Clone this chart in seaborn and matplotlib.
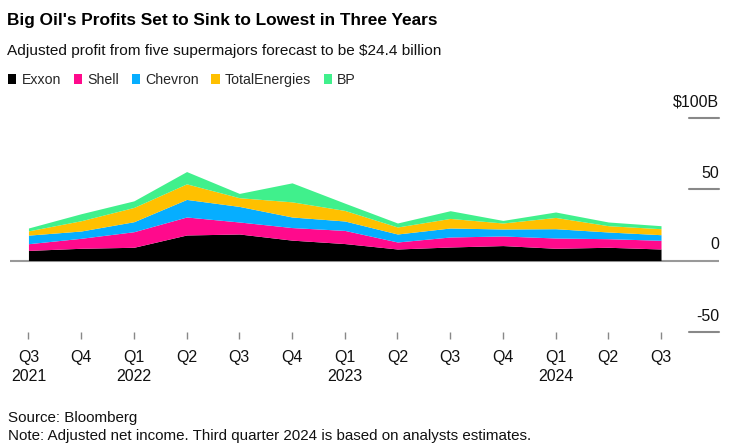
import matplotlib
matplotlib.use("Agg")
import matplotlib.pyplot as plt
import matplotlib.transforms as mtransforms
from matplotlib.patches import Patch
import seaborn as sns
import numpy as np

# ---- data ----
quarters = ["Q3", "Q4", "Q1", "Q2", "Q3", "Q4", "Q1", "Q2", "Q3", "Q4", "Q1", "Q2", "Q3"]
years = ["2021", "", "2022", "", "", "", "2023", "", "", "", "2024", "", ""]
companies = ["Exxon", "Shell", "Chevron", "TotalEnergies", "BP"]
exxon = [7.1, 8.6, 9.3, 17.9, 18.6, 14.3, 11.9, 8.1, 9.5, 10.5, 8.6, 9.3, 8.1]
shell = [4.7, 7.0, 10.9, 12.6, 8.4, 8.8, 9.2, 4.9, 7.0, 6.7, 7.2, 6.0, 6.1]
chevron = [6.0, 5.1, 7.0, 12.3, 10.9, 7.4, 6.6, 5.6, 6.3, 4.9, 6.5, 4.7, 3.9]
total = [3.0, 7.2, 10.0, 10.9, 6.1, 10.6, 7.4, 4.9, 6.7, 4.2, 7.9, 4.4, 4.2]
bp = [2.0, 4.9, 4.6, 8.6, 3.0, 13.3, 5.1, 2.8, 5.4, 1.8, 3.8, 2.6, 2.1]
yticks = [-50, 0, 50, 100]
ytick_labels = ["-50", "0", "50", "$100B"]

colors = ["#000000", "#ff0a8c", "#06aeff", "#ffc000", "#40f08c"]

sns.set_theme(style="white")
plt.rcParams["font.family"] = ["Liberation Sans", "DejaVu Sans"]

fig = plt.figure(figsize=(7.35, 4.44), dpi=100)
ax = fig.add_axes([10 / 735, 1 - 332 / 444, (719 - 10) / 735, (332 - 117.7) / 444])

x = np.arange(len(quarters))
ax.stackplot(x, exxon, shell, chevron, total, bp, colors=colors, linewidth=0)

ax.set_xlim(-0.35, len(quarters) - 1 + 1.1)
ax.set_ylim(-50, 100)
for s in ax.spines.values():
    s.set_visible(False)

# zero line and short gridlines on the right
ax.axhline(0, color="#999999", lw=1.5, zorder=0.5)
trans = mtransforms.blended_transform_factory(ax.transAxes, ax.transData)
x0 = (689 - 10) / (719 - 10)
for v, lab in zip(yticks, ytick_labels):
    if v != 0:
        ax.plot([x0, 1.0], [v, v], transform=trans, color="#888888", lw=1.5, clip_on=False)
    off = mtransforms.offset_copy(trans, fig=fig, x=0, y=6, units="points")
    ax.text(1.0, v, lab, transform=off, ha="right", va="bottom", fontsize=11.5, color="#111111")
ax.set_yticks([])

# x ticks
ax.set_xticks(x)
ax.set_xticklabels([q + ("\n" + y if y else "\n") for q, y in zip(quarters, years)],
                   fontsize=11.5, linespacing=1.35)
ax.tick_params(axis="x", bottom=True, length=5, width=1, color="#888888", pad=8, labelcolor="#111111")

# titles
fig.text(7 / 735, 1 - 20 / 444, "Big Oil's Profits Set to Sink to Lowest in Three Years",
         fontsize=12.4, fontweight="bold", va="center", ha="left", color="#000000")
fig.text(7 / 735, 1 - 51 / 444, "Adjusted profit from five supermajors forecast to be $24.4 billion",
         fontsize=11.1, va="center", ha="left", color="#111111")

handles = [Patch(facecolor=c, edgecolor="none") for c in colors]
leg = fig.legend(handles, companies, loc="center left", bbox_to_anchor=(8 / 735, 1 - 80 / 444),
                 ncol=5, frameon=False, fontsize=10.2, handlelength=0.6, handleheight=0.75,
                 handletextpad=0.35, columnspacing=0.9, borderaxespad=0, borderpad=0)

fig.text(8 / 735, 1 - 418 / 444, "Source: Bloomberg", fontsize=10.9, va="center", ha="left",
         color="#111111")
fig.text(8 / 735, 1 - 436 / 444, "Note: Adjusted net income. Third quarter 2024 is based on analysts estimates.",
         fontsize=10.9, va="center", ha="left", color="#111111")

fig.savefig("out.png", dpi=100)
